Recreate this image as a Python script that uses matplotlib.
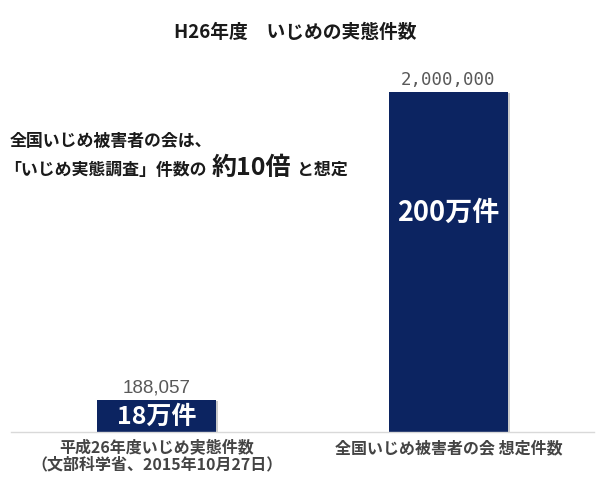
import matplotlib
matplotlib.use("Agg")
import matplotlib.pyplot as plt
import matplotlib.patheffects as pe
from matplotlib.offsetbox import TextArea, HPacker, AnnotationBbox

plt.rcParams['font.family'] = ['Noto Sans CJK JP', 'DejaVu Sans']

# data
categories = ["平成26年度いじめ実態件数\n（文部科学省、2015年10月27日）",
              "全国いじめ被害者の会 想定件数"]
values = [188057, 2000000]
value_labels = ["188,057", "2,000,000"]
inner_labels = ["18万件", "200万件"]
title = "H26年度　いじめの実態件数"
note_line1 = "全国いじめ被害者の会は、"
note_parts = ["「いじめ実態調査」件数の", "約10倍", "と想定"]

navy = "#0c2461"

fig = plt.figure(figsize=(6, 4.89), dpi=100)
ax = fig.add_axes([0.0183, 0.1145, 0.972, 0.7628])

x = range(len(values))
bars = ax.bar(x, values, width=0.408, color=navy, zorder=2)
for b in bars:
    b.set_path_effects([pe.SimplePatchShadow(offset=(1.5, -1), shadow_rgbFace="#999999", alpha=0.5),
                        pe.Normal()])

ax.set_xlim(-0.5, 1.5)
ax.set_ylim(0, 2194000)

# value labels above bars
fonts_val = [dict(family=['Liberation Sans', 'DejaVu Sans'], fontsize=13.5),
             dict(family=['DejaVu Sans Mono'], fontsize=12.5)]
for i, (v, lab) in enumerate(zip(values, value_labels)):
    ax.annotate(lab, (i, v), xytext=(0, 3), textcoords="offset points",
                ha="center", va="bottom", color="#595959", **fonts_val[i])

# labels inside bars
inner_pos = [0.5, 0.647]
inner_size = [18, 19.5]
for i, (v, lab) in enumerate(zip(values, inner_labels)):
    ax.text(i, v * inner_pos[i], lab, ha="center", va="center",
            color="white", fontsize=inner_size[i], fontweight="bold")

ax.set_xticks(list(x))
ax.set_xticklabels(categories, fontsize=11.5, fontweight="bold", color="#444444",
                   linespacing=1.0)
ax.tick_params(axis="x", length=0, pad=5)
ax.set_yticks([])
for s in ["top", "right", "left"]:
    ax.spines[s].set_visible(False)
ax.spines["bottom"].set_color("#d9d9d9")
ax.spines["bottom"].set_linewidth(1)

fig.text(0.492, 1 - 32 / 489, title, ha="center", va="center",
         fontsize=13.5, fontweight="bold", color="#1a1a1a")

fig.text(10 / 600, 1 - 141 / 489, note_line1, ha="left", va="center",
         fontsize=12.2, fontweight="bold", color="#1a1a1a")

parts = [TextArea(note_parts[0], textprops=dict(fontsize=12.2, fontweight="bold", color="#1a1a1a")),
         TextArea(note_parts[1], textprops=dict(fontsize=18, fontweight="bold", color="#1a1a1a")),
         TextArea(note_parts[2], textprops=dict(fontsize=12.2, fontweight="bold", color="#1a1a1a"))]
line2 = HPacker(children=parts, align="baseline", pad=0, sep=4)
ab = AnnotationBbox(line2, (4 / 600, 1 - 168 / 489), xycoords="figure fraction",
                    box_alignment=(0, 0.5), frameon=False, pad=0)
fig.add_artist(ab)

fig.savefig("out.png", dpi=100)
